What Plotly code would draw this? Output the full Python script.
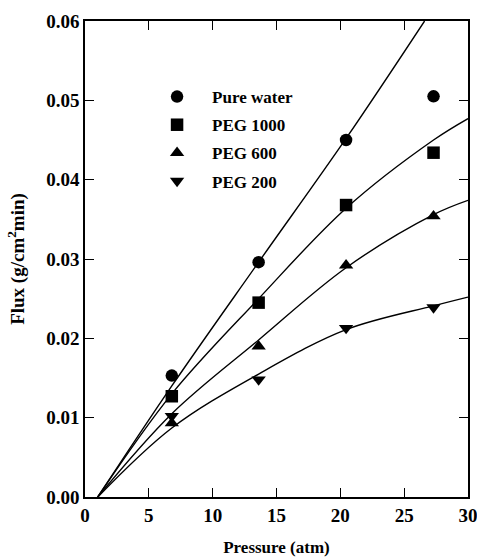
import plotly.graph_objects as go

# Measured data (pressure in atm, flux in g/cm2 min)
pressure = [6.8, 13.6, 20.45, 27.3]
pure_water = [0.0153, 0.0296, 0.0450, 0.0505]
peg_1000 = [0.0127, 0.0245, 0.0368, 0.0434]
peg_600 = [0.0093, 0.0190, 0.0292, 0.0354]
peg_200 = [0.0102, 0.0148, 0.0213, 0.0239]

# Fitted curves
fit_x_water = [1.0, 6.8, 13.6, 20.45, 26.6]
fit_water = [0.0, 0.0140, 0.0296, 0.0452, 0.0600]
fit_x = [1.0, 6.8, 13.6, 20.45, 27.3, 30.0]
fit_1000 = [0.0, 0.0130, 0.0250, 0.0364, 0.0450, 0.0477]
fit_600 = [0.0, 0.0105, 0.0198, 0.0289, 0.0356, 0.0374]
fit_200 = [0.0, 0.0087, 0.0155, 0.0211, 0.0241, 0.0252]

names = ["Pure water", "PEG 1000", "PEG 600", "PEG 200"]
symbols = ["circle", "square", "triangle-up", "triangle-down"]
series = [pure_water, peg_1000, peg_600, peg_200]
fits = [(fit_x_water, fit_water), (fit_x, fit_1000), (fit_x, fit_600), (fit_x, fit_200)]

x_ticks = [0, 5, 10, 15, 20, 25, 30]
y_ticks = [0.00, 0.01, 0.02, 0.03, 0.04, 0.05, 0.06]

FONT = "Liberation Serif"
fig = go.Figure()
for (fx, fy) in fits:
    fig.add_trace(go.Scatter(x=fx, y=fy, mode="lines", line=dict(color="black", width=1.4, shape="spline", smoothing=1.0),
                             showlegend=False, hoverinfo="skip"))
for name, sym, ys in zip(names, symbols, series):
    fig.add_trace(go.Scatter(x=pressure, y=ys, mode="markers", name=name, legendgroup=name,
                             marker=dict(symbol=sym, size=12.5, color="black")))

axis_common = dict(showline=True, linecolor="black", linewidth=1.5, mirror="ticks", ticks="inside",
                   ticklen=9, tickwidth=1.2, tickcolor="black", showgrid=False, zeroline=False, automargin=False,
                   ticklabeloverflow="allow",
                   tickfont=dict(family=FONT, size=19, color="black", weight="bold"))
fig.update_xaxes(range=[0, 30], tickvals=x_ticks, ticktext=[str(v) for v in x_ticks],
                 title=dict(text="Pressure (atm)", font=dict(family=FONT, size=17, color="black", weight="bold"), standoff=17),
                 **axis_common)
fig.update_yaxes(range=[0, 0.06], tickvals=y_ticks, ticktext=[f"{v:.2f}" for v in y_ticks],
                 title=dict(text="Flux (g/cm<sup>2</sup>min)", font=dict(family=FONT, size=19, color="black", weight="bold"), standoff=17),
                 **axis_common)
fig.update_layout(
    width=477, height=558, plot_bgcolor="white", paper_bgcolor="white",
    margin=dict(l=85, r=9, t=21, b=61),
    legend=dict(x=0.149, y=0.878, xanchor="left", yanchor="top", bgcolor="rgba(0,0,0,0)",
                traceorder="grouped", tracegroupgap=3, itemwidth=60,
                font=dict(family=FONT, size=17, color="black", weight="bold")),
)
fig.write_html("out.html", config={"displayModeBar": False},
               post_script="document.body.style.margin='0';document.body.style.overflow='hidden';"
               "Plotly.relayout(document.getElementById('{plot_id}'), {width: 477, height: 558});")
